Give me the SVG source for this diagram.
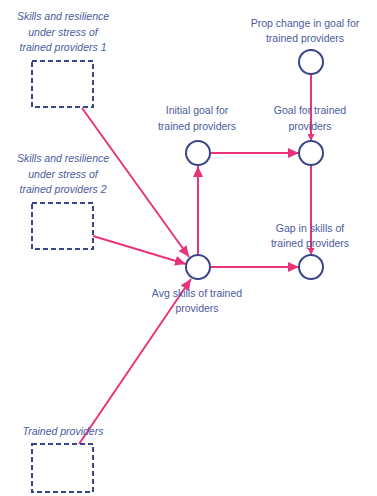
<svg xmlns="http://www.w3.org/2000/svg" width="377" height="496" viewBox="0 0 377 496">
<style>
  .lbl { font-family: "Liberation Sans", Arial, sans-serif; font-size: 10.5px; fill: #4d5a9e; text-anchor: middle; }
  .it { font-style: italic; }
  .aux { fill: #ffffff; stroke: #3a4488; stroke-width: 2; }
  .ext { fill: #ffffff; stroke: #3a4488; stroke-width: 2; stroke-dasharray: 5 3; }
  .lnk { fill: none; stroke: #e8347c; stroke-width: 2; }
  .big { marker-end: url(#ah); }
  .small { marker-end: url(#ahs); }
</style>
<defs>
  <marker id="ah" markerUnits="userSpaceOnUse" markerWidth="12" markerHeight="12" refX="11" refY="5" orient="auto" viewBox="0 0 12 10">
    <path d="M0,0 L11,5 L0,10 z" fill="#e8347c"/>
  </marker>
  <marker id="ahs" markerUnits="userSpaceOnUse" markerWidth="8" markerHeight="8" refX="7" refY="3.5" orient="auto" viewBox="0 0 8 7">
    <path d="M0,0 L7,3.5 L0,7 z" fill="#e8347c"/>
  </marker>
</defs>
<rect width="377" height="496" fill="#ffffff"/>

<g id="connectors">
  <line class="lnk big" x1="82" y1="108" x2="189" y2="257"/>
  <line class="lnk big" x1="93" y1="236" x2="186" y2="264"/>
  <line class="lnk big" x1="79" y1="444" x2="191" y2="279"/>
  <line class="lnk big" x1="198" y1="255" x2="198" y2="166"/>
  <line class="lnk big" x1="210" y1="153" x2="299" y2="153"/>
  <line class="lnk big" x1="210" y1="267" x2="299" y2="267"/>
  <line class="lnk small" x1="311" y1="74" x2="311" y2="141"/>
  <line class="lnk small" x1="311" y1="165" x2="311" y2="255"/>
</g>

<g id="skills1">
  <rect class="ext" x="32" y="61" width="61" height="46"/>
  <text class="lbl it"><tspan x="63" y="20">Skills and resilience</tspan><tspan x="63" y="35.5">under stress of</tspan><tspan x="63" y="51">trained providers 1</tspan></text>
</g>

<g id="skills2">
  <rect class="ext" x="32" y="203" width="61" height="46"/>
  <text class="lbl it"><tspan x="63" y="162">Skills and resilience</tspan><tspan x="63" y="177.5">under stress of</tspan><tspan x="63" y="193">trained providers 2</tspan></text>
</g>

<g id="trained-providers">
  <rect class="ext" x="32" y="444" width="61" height="48"/>
  <text class="lbl it" x="63" y="435">Trained providers</text>
</g>

<g id="prop-change">
  <circle class="aux" cx="311" cy="62" r="12"/>
  <text class="lbl"><tspan x="305" y="27">Prop change in goal for</tspan><tspan x="305" y="42">trained providers</tspan></text>
</g>

<g id="initial-goal">
  <circle class="aux" cx="198" cy="153" r="12"/>
  <text class="lbl"><tspan x="197" y="114">Initial goal for</tspan><tspan x="197" y="130">trained providers</tspan></text>
</g>

<g id="goal">
  <circle class="aux" cx="311" cy="153" r="12"/>
  <text class="lbl"><tspan x="310" y="114">Goal for trained</tspan><tspan x="310" y="130">providers</tspan></text>
</g>

<g id="gap">
  <circle class="aux" cx="311" cy="267" r="12"/>
  <text class="lbl"><tspan x="310" y="232">Gap in skills of</tspan><tspan x="310" y="247">trained providers</tspan></text>
</g>

<g id="avg-skills">
  <circle class="aux" cx="198" cy="267" r="12"/>
  <text class="lbl"><tspan x="197" y="297">Avg skills of trained</tspan><tspan x="197" y="312">providers</tspan></text>
</g>
</svg>
